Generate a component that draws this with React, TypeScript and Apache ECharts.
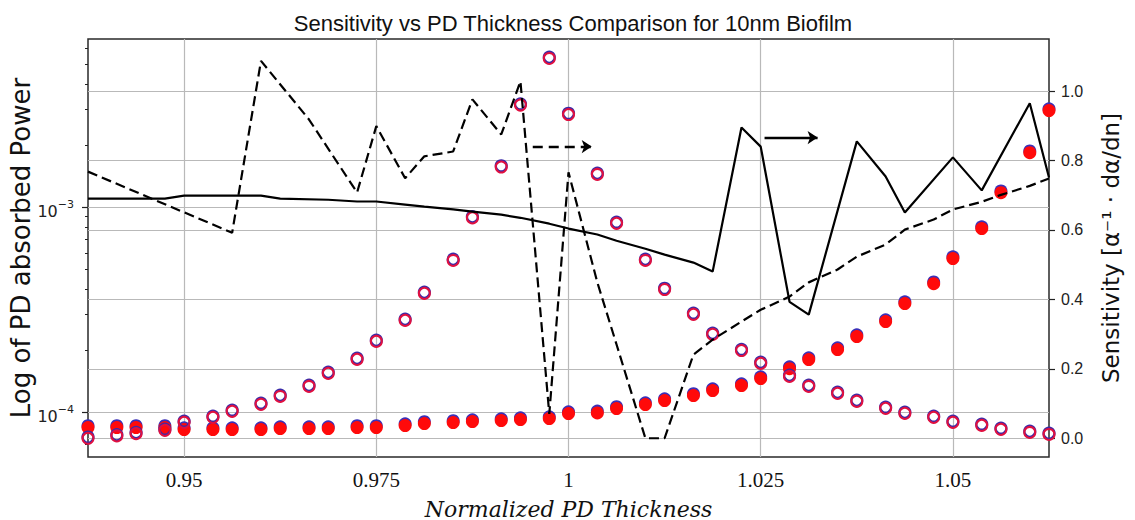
import React, { useEffect, useRef } from "react";
import * as echarts from "echarts";

// Normalized PD thickness sample positions
const thickness = [
  0.9375, 0.94125, 0.94375, 0.9475, 0.95, 0.95375, 0.95625, 0.96, 0.9625, 0.96625,
  0.96875, 0.9725, 0.975, 0.97875, 0.98125, 0.985, 0.9875, 0.99125, 0.99375, 0.9975,
  1.0, 1.00375, 1.00625, 1.01, 1.0125, 1.01625, 1.01875, 1.0225, 1.025, 1.02875,
  1.03125, 1.035, 1.0375, 1.04125, 1.04375, 1.0475, 1.05, 1.05375, 1.05625, 1.06, 1.0625,
];

// Absorbed power (open circles) — peaked curve
const powerOpen = [
  7.5e-5, 7.7e-5, 7.9e-5, 8.2e-5, 8.97e-5, 9.49e-5, 1.015e-4, 1.098e-4, 1.2e-4, 1.343e-4,
  1.555e-4, 1.82e-4, 2.227e-4, 2.82e-4, 3.82e-4, 5.53e-4, 8.92e-4, 1.58e-3, 3.17e-3, 5.35e-3,
  2.85e-3, 1.454e-3, 8.39e-4, 5.53e-4, 3.99e-4, 3.02e-4, 2.41e-4, 2.01e-4, 1.74e-4, 1.503e-4,
  1.343e-4, 1.242e-4, 1.135e-4, 1.05e-4, 9.92e-5, 9.49e-5, 8.97e-5, 8.67e-5, 8.29e-5, 8.01e-5, 7.83e-5,
];

// Absorbed power (filled circles) — rising curve
const powerFilled = [
  8.48e-5, 8.48e-5, 8.48e-5, 8.48e-5, 8.29e-5, 8.29e-5, 8.29e-5, 8.29e-5, 8.38e-5, 8.38e-5,
  8.38e-5, 8.48e-5, 8.48e-5, 8.67e-5, 8.87e-5, 8.97e-5, 9.07e-5, 9.17e-5, 9.27e-5, 9.38e-5,
  9.92e-5, 1.0e-4, 1.05e-4, 1.098e-4, 1.148e-4, 1.215e-4, 1.285e-4, 1.359e-4, 1.47e-4, 1.644e-4,
  1.82e-4, 2.036e-4, 2.356e-4, 2.789e-4, 3.413e-4, 4.27e-4, 5.66e-4, 7.93e-4, 1.187e-3, 1.86e-3, 2.985e-3,
];

// Sensitivity, dashed curve
const dashedX = [
  0.9375, 0.95625, 0.96, 0.96625, 0.9725, 0.975, 0.97875, 0.98125, 0.985, 0.9875,
  0.99125, 0.99375, 0.9975, 1.0, 1.00375, 1.00625, 1.01, 1.0125, 1.01625, 1.01875,
  1.0225, 1.025, 1.02875, 1.03125, 1.035, 1.0375, 1.04125, 1.04375, 1.0475, 1.05,
  1.05375, 1.05625, 1.06, 1.0625,
];
const dashedY = [
  0.768, 0.592, 1.087, 0.918, 0.708, 0.899, 0.749, 0.812, 0.826, 0.976,
  0.875, 1.028, 0.07, 0.766, 0.449, 0.27, 0.0, 0.0, 0.241, 0.284,
  0.336, 0.37, 0.408, 0.449, 0.486, 0.523, 0.558, 0.601, 0.63, 0.659,
  0.681, 0.701, 0.727, 0.748,
];

// Sensitivity, solid curve
const solidX = [
  0.9375, 0.9475, 0.95, 0.96, 0.9625, 0.96875, 0.9725, 0.975, 0.97875, 0.98125,
  0.985, 0.9875, 0.99125, 0.99375, 0.9975, 1.0, 1.00375, 1.00625, 1.01, 1.0125,
  1.01625, 1.01875, 1.0225, 1.025, 1.02875, 1.03125, 1.0375, 1.04125, 1.04375, 1.05,
  1.05375, 1.06, 1.0625,
];
const solidY = [
  0.69, 0.69, 0.699, 0.699, 0.69, 0.687, 0.682, 0.682, 0.673, 0.667,
  0.659, 0.653, 0.644, 0.635, 0.618, 0.604, 0.587, 0.569, 0.546, 0.529,
  0.506, 0.48, 0.895, 0.84, 0.393, 0.356, 0.855, 0.754, 0.65, 0.809,
  0.714, 0.965, 0.751,
];

// Arrow annotations (start x, end x, y on sensitivity axis)
const dashedArrow = [0.99535, 1.00302, 0.84];
const solidArrow = [1.0255, 1.0324, 0.866];

// Tick labels / positions
const xTicks = [0.95, 0.975, 1, 1.025, 1.05];
const logMajor = [1e-4, 1e-3];
const logMinor = [7e-5, 8e-5, 9e-5, 2e-4, 3e-4, 4e-4, 5e-4, 6e-4, 7e-4, 8e-4, 9e-4, 2e-3, 3e-3, 4e-3, 5e-3, 6e-3];
const sensTicks = [0, 0.2, 0.4, 0.6, 0.8, 1.0];

const X_MIN = 0.9375;
const X_MAX = 1.0625;
const P_MIN = 6.05e-5;
const P_MAX = 6.63e-3;
const S_MIN = -0.054;
const S_MAX = 1.15;

const pairs = (xs: number[], ys: number[]) => xs.map((x, i) => [x, ys[i]]);

export default function App() {
  const ref = useRef<HTMLDivElement>(null);
  useEffect(() => {
    if (!ref.current) return;
    const chart = echarts.init(ref.current, undefined, { renderer: "svg" });
    const gridColor = "#b9b9b9";
    const option: any = {
      animation: false,
      backgroundColor: "#ffffff",
      title: {
        text: "Sensitivity vs PD Thickness Comparison for 10nm Biofilm",
        left: 568,
        textAlign: "center",
        top: 7,
        textStyle: { fontFamily: "Liberation Sans", fontSize: 22, fontWeight: "normal", color: "#111" },
      },
      grid: {
        left: 88,
        right: 86,
        top: 39,
        bottom: 63,
        containLabel: false,
        outerBoundsMode: "none",
        show: true,
        borderColor: "#2a2a2a",
        borderWidth: 1.5,
        backgroundColor: "transparent",
      },
      xAxis: {
        type: "value",
        min: X_MIN,
        max: X_MAX,
        axisLine: { show: false },
        axisTick: { show: false, customValues: xTicks },
        axisLabel: {
          customValues: xTicks,
          fontFamily: "Liberation Serif",
          fontSize: 21,
          color: "#111",
          margin: 12,
        },
        splitLine: { show: true, lineStyle: { color: gridColor, width: 1.2 } },
        name: "Normalized PD Thickness",
        nameLocation: "middle",
        nameGap: 41,
        nameMoveOverlap: false,
        nameTextStyle: { fontFamily: "DejaVu Serif", fontStyle: "italic", fontSize: 22, color: "#111" },
      },
      yAxis: [
        {
          type: "log",
          min: P_MIN,
          max: P_MAX,
          position: "left",
          axisLine: { show: false },
          axisTick: { show: true, customValues: logMajor, length: 6, lineStyle: { color: "#222", width: 1.2 } },
          axisLabel: {
            customValues: logMajor,
            margin: 14,
            formatter: (v: number) => `{b|10}{s|−${Math.abs(Math.round(Math.log10(v)))}}`,
            rich: {
              b: { fontFamily: "DejaVu Sans", fontSize: 16, color: "#222", padding: [8, 0, 0, 0] },
              s: { fontFamily: "DejaVu Sans", fontSize: 11, color: "#222", padding: [0, 0, 6, 0] },
            },
          },
          splitLine: { show: true, lineStyle: { color: gridColor, width: 1.2 } },
          name: "Log of PD absorbed Power",
          nameLocation: "middle",
          nameGap: 54,
          nameMoveOverlap: false,
          nameRotate: 90,
          nameTextStyle: { fontFamily: "DejaVu Sans", fontSize: 26, color: "#111" },
        },
        {
          type: "log",
          min: P_MIN,
          max: P_MAX,
          position: "left",
          axisLine: { show: false },
          axisTick: { show: true, customValues: logMinor, length: 3, lineStyle: { color: "#222", width: 1 } },
          axisLabel: { show: false },
          splitLine: { show: false },
        },
        {
          type: "value",
          min: S_MIN,
          max: S_MAX,
          position: "right",
          axisLine: { show: false },
          axisTick: { show: true, customValues: sensTicks, length: 6, lineStyle: { color: "#222", width: 1.2 } },
          axisLabel: {
            customValues: sensTicks,
            formatter: (v: number) => v.toFixed(1),
            fontFamily: "Liberation Sans",
            fontSize: 16,
            color: "#222",
            margin: 12,
          },
          splitLine: { show: true, lineStyle: { color: gridColor, width: 1.2 } },
          name: "Sensitivity [α⁻¹ · dα/dn]",
          nameLocation: "middle",
          nameGap: 50,
          nameMoveOverlap: false,
          nameRotate: 90,
          nameTextStyle: { fontFamily: "DejaVu Sans", fontSize: 23, color: "#111" },
        },
      ],
      series: [
        {
          type: "scatter",
          yAxisIndex: 0,
          data: pairs(thickness, powerFilled),
          symbol: "circle",
          symbolSize: 13,
          symbolOffset: [0, -1.2],
          itemStyle: { color: "#3b30b8", opacity: 1 },
          z: 2,
        },
        {
          type: "scatter",
          yAxisIndex: 0,
          data: pairs(thickness, powerFilled),
          symbol: "circle",
          symbolSize: 13,
          symbolOffset: [0, 0.6],
          itemStyle: { color: "#ff0a0a", opacity: 1 },
          z: 3,
        },
        {
          type: "scatter",
          yAxisIndex: 0,
          data: pairs(thickness, powerOpen),
          symbol: "circle",
          symbolSize: 11,
          symbolOffset: [0, -0.8],
          itemStyle: { color: "rgba(0,0,0,0)", borderColor: "#3a2aa8", borderWidth: 2.2, opacity: 1 },
          z: 4,
        },
        {
          type: "scatter",
          yAxisIndex: 0,
          data: pairs(thickness, powerOpen),
          symbol: "circle",
          symbolSize: 11,
          symbolOffset: [0, 0.4],
          itemStyle: { color: "rgba(0,0,0,0)", borderColor: "#e01040", borderWidth: 2, opacity: 1 },
          z: 5,
        },
        {
          type: "line",
          yAxisIndex: 2,
          data: pairs(dashedX, dashedY),
          symbol: "none",
          lineStyle: { color: "#000", width: 2.2, type: [10, 5] },
          z: 6,
          markLine: {
            silent: true,
            symbol: ["none", "arrow"],
            symbolSize: 10,
            label: { show: false },
            lineStyle: { color: "#000", width: 2.4, type: [10, 6] },
            data: [[{ coord: [dashedArrow[0], dashedArrow[2]] }, { coord: [dashedArrow[1], dashedArrow[2]] }]],
          },
        },
        {
          type: "line",
          yAxisIndex: 2,
          data: pairs(solidX, solidY),
          symbol: "none",
          lineStyle: { color: "#000", width: 2.2 },
          z: 6,
          markLine: {
            silent: true,
            symbol: ["none", "arrow"],
            symbolSize: 10,
            label: { show: false },
            lineStyle: { color: "#000", width: 2.4, type: "solid" },
            data: [[{ coord: [solidArrow[0], solidArrow[2]] }, { coord: [solidArrow[1], solidArrow[2]] }]],
          },
        },
      ],
    };
    chart.setOption(option);
    return () => chart.dispose();
  }, []);
  return (
    <div
      ref={ref}
      style={{ position: "fixed", left: 0, top: 0, width: 1135, height: 520, background: "#fff" }}
    />
  );
}
